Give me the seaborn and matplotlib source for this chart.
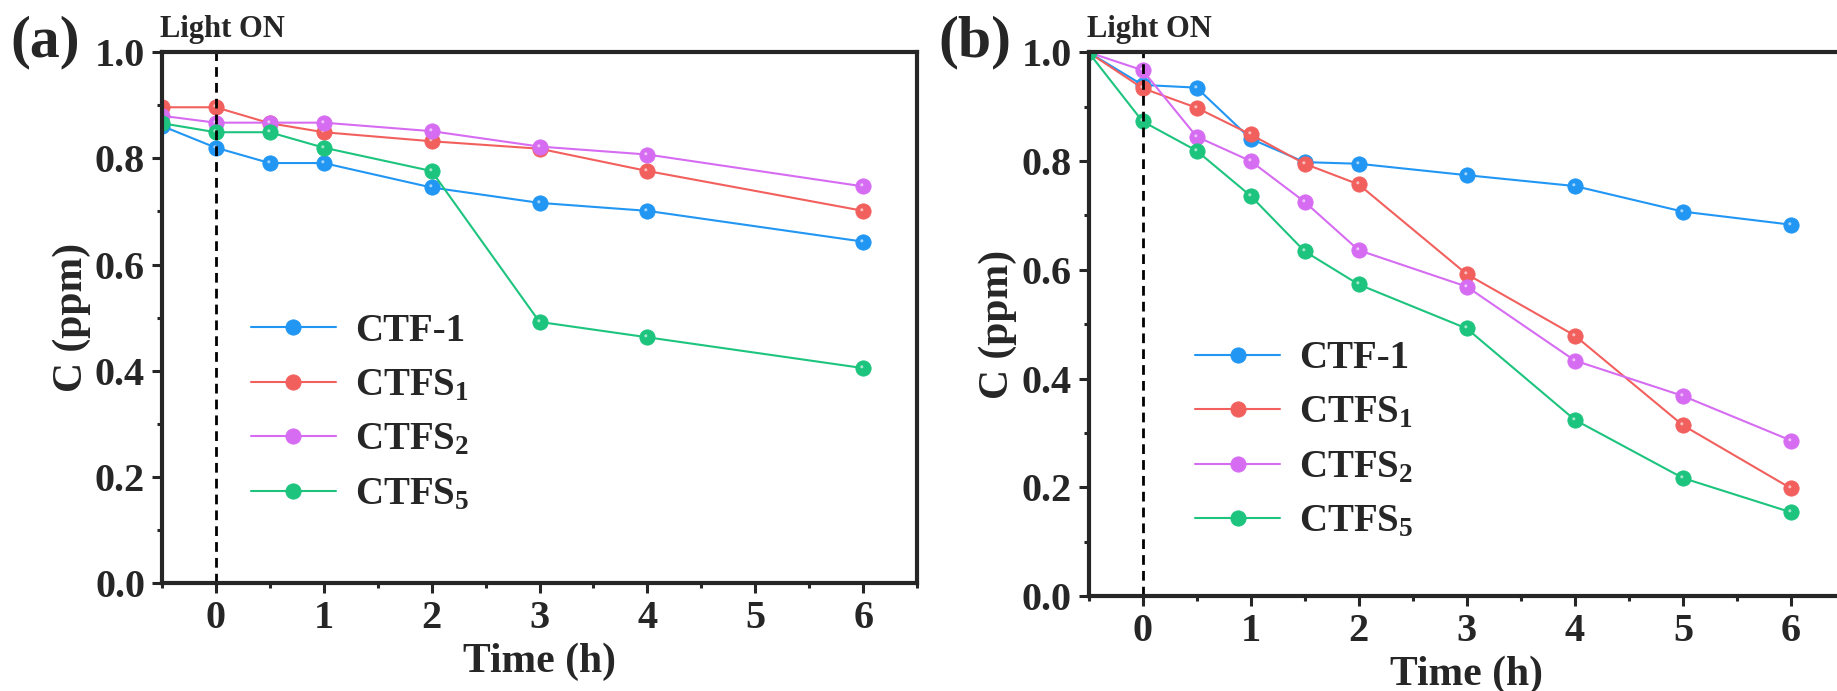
import matplotlib
matplotlib.use('Agg')
import pandas as pd
import matplotlib.pyplot as plt
import seaborn as sns
from matplotlib.path import Path
from matplotlib.ticker import MultipleLocator, FormatStrFormatter

# data
time_a = [-0.5, 0, 0.5, 1, 2, 3, 4, 6]
ctf1_a = [0.861, 0.820, 0.791, 0.791, 0.745, 0.716, 0.701, 0.643]
ctfs1_a = [0.896, 0.896, 0.866, 0.849, 0.832, 0.818, 0.776, 0.701]
ctfs2_a = [0.880, 0.867, 0.867, 0.867, 0.851, 0.822, 0.807, 0.747]
ctfs5_a = [0.866, 0.849, 0.849, 0.820, 0.776, 0.492, 0.463, 0.405]

time_b = [-0.5, 0, 0.5, 1, 1.5, 2, 3, 4, 5, 6]
ctf1_b = [1.0, 0.940, 0.935, 0.841, 0.798, 0.795, 0.774, 0.754, 0.707, 0.683]
ctfs1_b = [1.0, 0.934, 0.898, 0.849, 0.795, 0.757, 0.592, 0.479, 0.314, 0.198]
ctfs2_b = [1.0, 0.967, 0.845, 0.800, 0.725, 0.636, 0.569, 0.433, 0.368, 0.286]
ctfs5_b = [1.0, 0.873, 0.819, 0.736, 0.634, 0.573, 0.492, 0.324, 0.217, 0.154]

labels = ['CTF-1', r'CTFS$_1$', r'CTFS$_2$', r'CTFS$_5$']
colors = ['#2196f3', '#f2605e', '#d66cf2', '#1dc47e']

sns.set_style('ticks')
plt.rcParams['font.family'] = ['Liberation Serif', 'DejaVu Serif']
plt.rcParams['font.weight'] = 'bold'
plt.rcParams['mathtext.fontset'] = 'custom'
plt.rcParams['mathtext.rm'] = 'Liberation Serif:bold'
plt.rcParams['mathtext.it'] = 'Liberation Serif:bold'
plt.rcParams['mathtext.bf'] = 'Liberation Serif:bold'

# small off-centre glint so the dots look like shaded balls
_c = Path.circle((-0.22, 0.22), 0.2)
glint = Path([(1, 1), (-1, -1)] + list(_c.vertices),
             [Path.MOVETO, Path.MOVETO] + list(_c.codes))

W, H = 1837, 691
fig = plt.figure(figsize=(W / 100, H / 100), dpi=100)
ax1 = fig.add_axes([161.7 / W, 1 - 583.3 / H, 755.6 / W, 531.3 / H])
ax2 = fig.add_axes([1088.5 / W, 1 - 596 / H, 756.5 / W, 543.7 / H])


def draw(ax, t, series, leg_xy, tag, tag_x):
    for vals, name, c in zip(series, labels, colors):
        sns.lineplot(x=t, y=vals, ax=ax, color=c, marker='o', markersize=11,
                     markeredgecolor=c, markeredgewidth=0.6, linewidth=1.5,
                     label=name)
        ax.plot(t, vals, linestyle='', marker=glint, markersize=11,
                color='white', alpha=0.6, markeredgewidth=0)
    ax.axvline(0, color='black', linestyle=(0, (3.5, 2.2)), linewidth=2)
    ax.set_xlim(-0.5, 6.5)
    ax.set_ylim(0, 1.0)
    ax.xaxis.set_major_locator(MultipleLocator(1))
    ax.xaxis.set_minor_locator(MultipleLocator(0.5))
    ax.yaxis.set_major_locator(MultipleLocator(0.2))
    ax.yaxis.set_minor_locator(MultipleLocator(0.1))
    ax.yaxis.set_major_formatter(FormatStrFormatter('%.1f'))
    ax.tick_params(which='major', direction='out', length=7, width=2.2,
                   labelsize=29, pad=5)
    ax.tick_params(which='minor', direction='out', length=3.5, width=2.2)
    for lab in ax.get_xticklabels() + ax.get_yticklabels():
        lab.set_fontweight('bold')
    for sp in ax.spines.values():
        sp.set_linewidth(3)
    ax.set_xlabel('Time (h)', fontsize=30, fontweight='bold', labelpad=4)
    ax.set_ylabel('C (ppm)', fontsize=30, fontweight='bold', labelpad=3)
    ax.legend(frameon=False, loc='center left', bbox_to_anchor=leg_xy,
              borderpad=0, borderaxespad=0, handlelength=2.19,
              handletextpad=0.49, labelspacing=0.45,
              prop=dict(family='Liberation Serif', weight='bold', size=28))
    ax.annotate('Light ON', xy=(0, 1), xycoords='axes fraction',
                xytext=(-1, 11), textcoords='offset points', va='baseline',
                ha='left', fontsize=22, fontweight='bold')
    fig.text(tag_x / W, 1 - 42 / H, tag, fontsize=43, fontweight='bold',
             va='center', ha='left')


draw(ax1, time_a, [ctf1_a, ctfs1_a, ctfs2_a, ctfs5_a], (0.118, 0.3205), '(a)', 10)
draw(ax2, time_b, [ctf1_b, ctfs1_b, ctfs2_b, ctfs5_b], (0.141, 0.286), '(b)', 938)

fig.savefig('out.png', dpi=100)
